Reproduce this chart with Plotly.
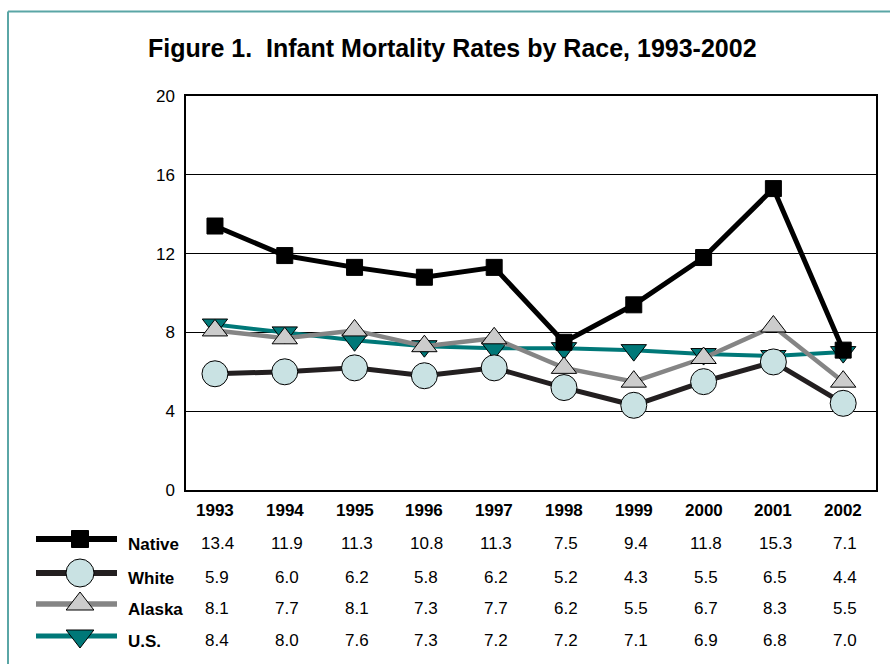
import plotly.graph_objects as go

years = ["1993", "1994", "1995", "1996", "1997", "1998", "1999", "2000", "2001", "2002"]
native = [13.4, 11.9, 11.3, 10.8, 11.3, 7.5, 9.4, 11.8, 15.3, 7.1]
white = [5.9, 6.0, 6.2, 5.8, 6.2, 5.2, 4.3, 5.5, 6.5, 4.4]
alaska = [8.1, 7.7, 8.1, 7.3, 7.7, 6.2, 5.5, 6.7, 8.3, 5.5]
us = [8.4, 8.0, 7.6, 7.3, 7.2, 7.2, 7.1, 6.9, 6.8, 7.0]
y_ticks = [0, 4, 8, 12, 16, 20]

W, H = 890, 664
FONT = "Liberation Sans, Arial, sans-serif"

series = [
    # name, values, line colour, line width, symbol, size, fill, legend row y (px)
    ("U.S.", us, "#007878", 4, "triangle-down", 22, "#007878", 640),
    ("Alaska", alaska, "#858585", 4.5, "triangle-up", 22, "#cccccc", 608),
    ("White", white, "#231f20", 5, "circle", 26, "#c9e2e3", 577),
    ("Native", native, "#000000", 5, "square", 16, "#000000", 543),
]

xs = list(range(len(years)))

fig = go.Figure()
for name, vals, lc, lw, sym, sz, fill, _ in series:
    fig.add_trace(go.Scatter(
        x=xs, y=vals, mode="lines+markers", name=name,
        line=dict(color=lc, width=lw),
        marker=dict(symbol=sym, size=sz, color=fill, line=dict(color="#000000", width=1)),
        xaxis="x", yaxis="y", showlegend=False, cliponaxis=False,
    ))

# legend keys drawn on a full-figure pixel axis
legend_sizes = {"square": 17, "circle": 28, "triangle-up": 24, "triangle-down": 24}
for name, vals, lc, lw, sym, sz, fill, ry in series:
    ly = ry - 4
    fig.add_trace(go.Scatter(
        x=[36, 117], y=[ly, ly], mode="lines",
        line=dict(color=lc, width=lw + 1), xaxis="x2", yaxis="y2", showlegend=False,
        hoverinfo="skip",
    ))
    fig.add_trace(go.Scatter(
        x=[80], y=[ly], mode="markers",
        marker=dict(symbol=sym, size=legend_sizes[sym], color=fill, line=dict(color="#000000", width=1)),
        xaxis="x2", yaxis="y2", showlegend=False, hoverinfo="skip",
    ))

# plot area in pixels
L, R, T, B = 186, 876, 96, 490

annotations = []
for i, yr in enumerate(years):
    annotations.append(dict(x=i, y=1 - 510 / H, xref="x", yref="paper", text="<b>%s</b>" % yr,
                            showarrow=False, font=dict(family=FONT, size=17, color="#000000"),
                            xanchor="center", yanchor="middle"))
for name, vals, lc, lw, sym, sz, fill, ry in series:
    annotations.append(dict(x=126 / W, y=1 - (ry + 1) / H, xref="paper", yref="paper",
                            text="<b>%s</b>" % name, showarrow=False,
                            font=dict(family=FONT, size=17, color="#000000"),
                            xanchor="left", yanchor="middle"))
    for i, v in enumerate(vals):
        annotations.append(dict(x=i + 0.03, y=1 - ry / H, xref="x", yref="paper", text="%.1f" % v,
                                showarrow=False, font=dict(family=FONT, size=17, color="#000000"),
                                xanchor="center", yanchor="middle"))
annotations.append(dict(x=452 / W, y=1 - 48 / H, xref="paper", yref="paper",
                        text="<b>Figure 1.&nbsp; Infant Mortality Rates by Race, 1993-2002</b>",
                        showarrow=False, font=dict(family=FONT, size=25, color="#000000"),
                        xanchor="center", yanchor="middle"))

shapes = [
    dict(type="line", xref="paper", yref="paper", x0=8 / W, x1=1, y0=1 - 11.5 / H, y1=1 - 11.5 / H,
         line=dict(color="#5aa6a6", width=2)),
    dict(type="line", xref="paper", yref="paper", x0=8 / W, x1=8 / W, y0=1 - 11.5 / H, y1=0,
         line=dict(color="#5aa6a6", width=2)),
]

fig.update_layout(
    template="none",
    width=W, height=H, autosize=False,
    margin=dict(l=0, r=0, t=0, b=0, pad=0, autoexpand=False),
    paper_bgcolor="white", plot_bgcolor="rgba(0,0,0,0)",
    font=dict(family=FONT, size=17, color="#000000"),
    xaxis=dict(domain=[L / W, R / W], range=[-0.415, 9.47], showticklabels=False, showgrid=False,
               zeroline=False, showline=True, linecolor="#000000", linewidth=1.8, mirror=True,
               ticks="", anchor="y", automargin=False),
    yaxis=dict(domain=[1 - B / H, 1 - T / H], range=[0, 20], tickvals=y_ticks,
               ticktext=[str(t) for t in y_ticks], showgrid=True, gridcolor="#000000", gridwidth=1,
               zeroline=False, showline=True, linecolor="#000000", linewidth=1.5, mirror=True,
               ticks="", tickfont=dict(family=FONT, size=17, color="#000000"), ticklabelstandoff=6,
               anchor="x", automargin=False),
    xaxis2=dict(domain=[0, 1], range=[0, W], visible=False, anchor="y2", automargin=False),
    yaxis2=dict(domain=[0, 1], range=[H, 0], visible=False, anchor="x2", automargin=False),
    annotations=annotations,
    shapes=shapes,
    showlegend=False,
)

post = ("document.documentElement.style.margin='0';document.body.style.margin='0';"
        "document.body.style.padding='0';document.body.style.overflow='hidden';"
        "var d=document.getElementById('{plot_id}');d.style.position='absolute';"
        "d.style.left='0px';d.style.top='0px';")

fig.write_html("out.html", post_script=post, config={"displayModeBar": False})
